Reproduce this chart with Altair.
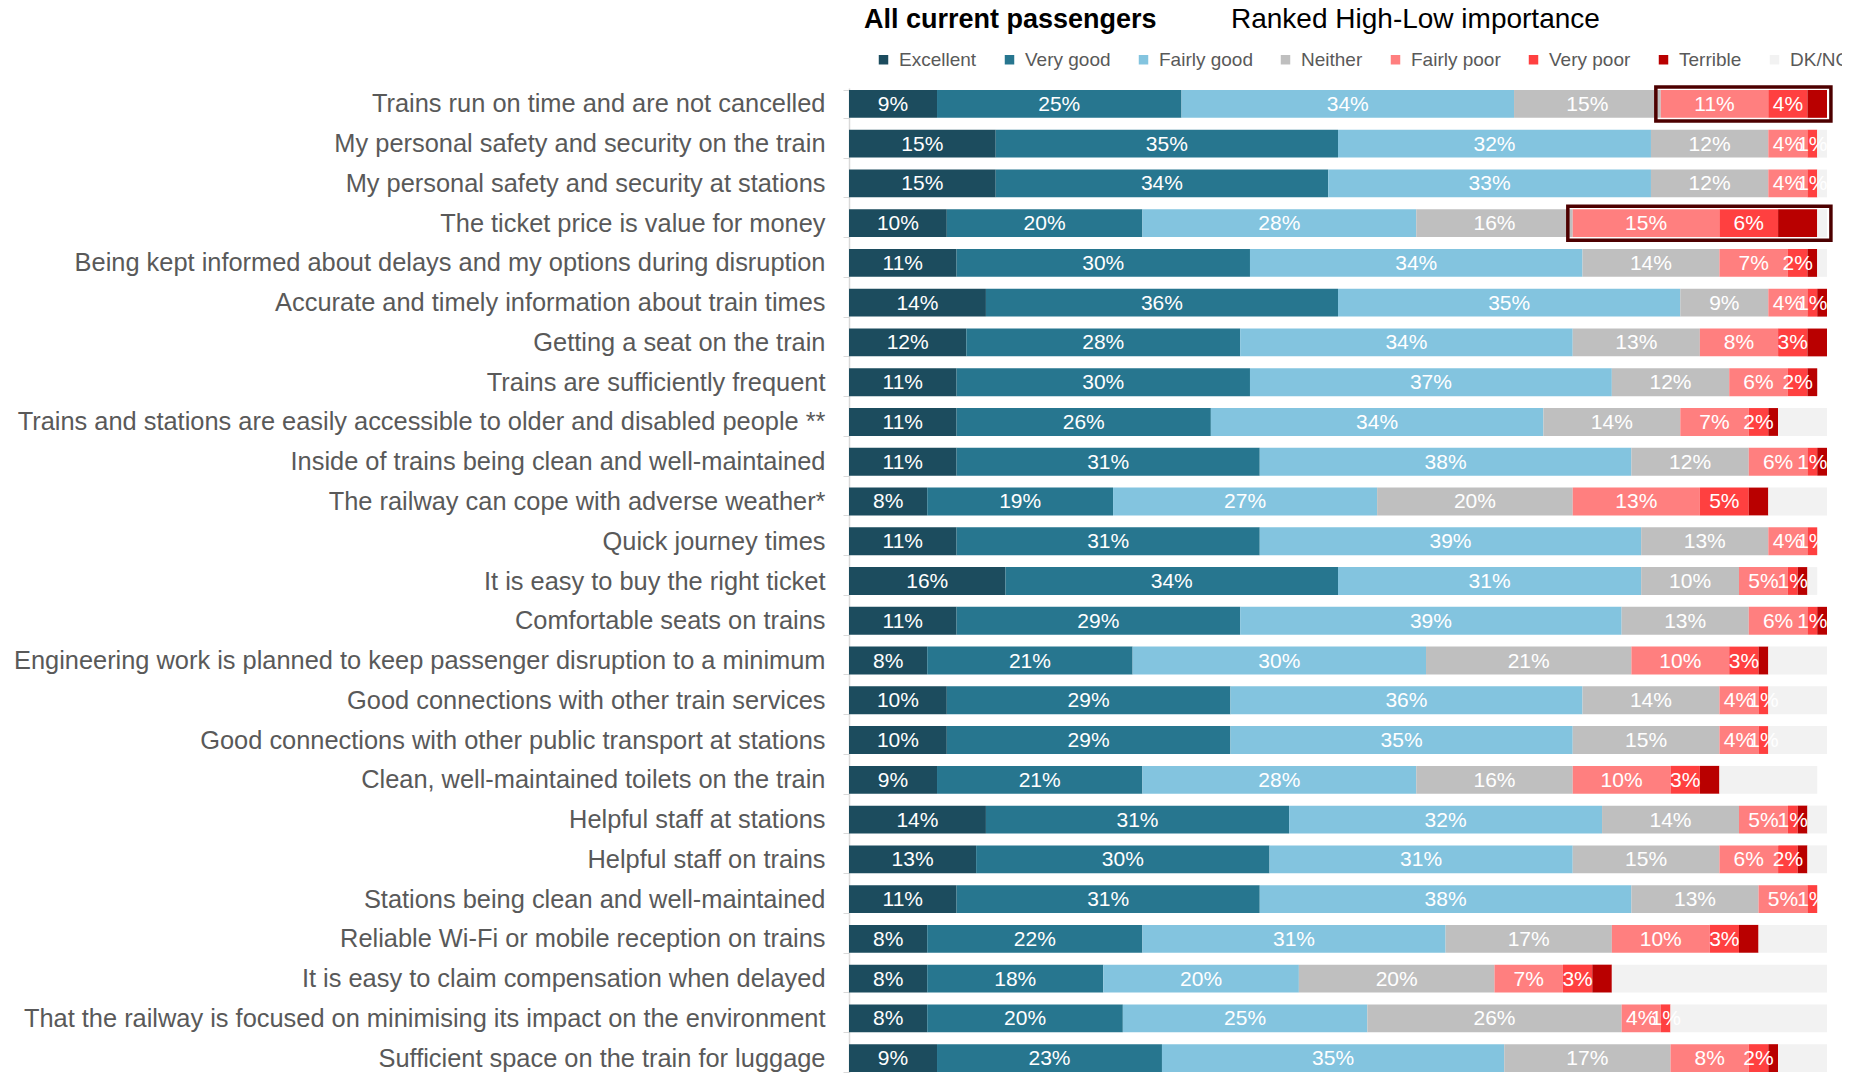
import altair as alt
import pandas as pd

categories = [
    "Trains run on time and are not cancelled",
    "My personal safety and security on the train",
    "My personal safety and security at stations",
    "The ticket price is value for money",
    "Being kept informed about delays and my options during disruption",
    "Accurate and timely information about train times",
    "Getting a seat on the train",
    "Trains are sufficiently frequent",
    "Trains and stations are easily accessible to older and disabled people **",
    "Inside of trains being clean and well-maintained",
    "The railway can cope with adverse weather*",
    "Quick journey times",
    "It is easy to buy the right ticket",
    "Comfortable seats on trains",
    "Engineering work is planned to keep passenger disruption to a minimum",
    "Good connections with other train services",
    "Good connections with other public transport at stations",
    "Clean, well-maintained toilets on the train",
    "Helpful staff at stations",
    "Helpful staff on trains",
    "Stations being clean and well-maintained",
    "Reliable Wi-Fi or mobile reception on trains",
    "It is easy to claim compensation when delayed",
    "That the railway is focused on minimising its impact on the environment",
    "Sufficient space on the train for luggage",
]

ratings = ["Excellent", "Very good", "Fairly good", "Neither",
           "Fairly poor", "Very poor", "Terrible", "DK/NO"]
colors = ["#1C4C5E", "#27768F", "#83C4DF", "#BFBFBF",
          "#FF7F7F", "#FF4040", "#B90000", "#F2F2F2"]

excellent   = [9, 15, 15, 10, 11, 14, 12, 11, 11, 11, 8, 11, 16, 11, 8, 10, 10, 9, 14, 13, 11, 8, 8, 8, 9]
very_good   = [25, 35, 34, 20, 30, 36, 28, 30, 26, 31, 19, 31, 34, 29, 21, 29, 29, 21, 31, 30, 31, 22, 18, 20, 23]
fairly_good = [34, 32, 33, 28, 34, 35, 34, 37, 34, 38, 27, 39, 31, 39, 30, 36, 35, 28, 32, 31, 38, 31, 20, 25, 35]
neither     = [15, 12, 12, 16, 14, 9, 13, 12, 14, 12, 20, 13, 10, 13, 21, 14, 15, 16, 14, 15, 13, 17, 20, 26, 17]
fairly_poor = [11, 4, 4, 15, 7, 4, 8, 6, 7, 6, 13, 4, 5, 6, 10, 4, 4, 10, 5, 6, 5, 10, 7, 4, 8]
very_poor   = [4, 1, 1, 6, 2, 1, 3, 2, 2, 1, 5, 1, 1, 1, 3, 1, 1, 3, 1, 2, 1, 3, 3, 1, 2]
terrible    = [2, 0, 0, 4, 1, 1, 2, 1, 1, 1, 2, 0, 1, 1, 1, 0, 0, 2, 1, 1, 0, 2, 2, 0, 1]
dk_no       = [0, 1, 1, 1, 1, 0, 0, 0, 5, 0, 6, 0, 1, 0, 6, 6, 6, 10, 2, 2, 0, 7, 22, 16, 5]

highlighted = ["Trains run on time and are not cancelled",
               "The ticket price is value for money"]

series = [excellent, very_good, fairly_good, neither,
          fairly_poor, very_poor, terrible, dk_no]

records = []
for i, cat in enumerate(categories):
    cum = 0
    for j, r in enumerate(ratings):
        v = series[j][i]
        records.append(dict(item=cat, rating=r, value=v, start=cum, end=cum + v,
                            mid=cum + v / 2,
                            label=(f"{v}%" if (v > 0 and j < 6) else "")))
        cum += v
df = pd.DataFrame(records)

box_rows = []
for cat in highlighted:
    i = categories.index(cat)
    neg_start = excellent[i] + very_good[i] + fairly_good[i] + neither[i]
    box_rows.append(dict(item=cat, bstart=neg_start - 0.5, bend=100.4))
box_df = pd.DataFrame(box_rows)

FONT = "Liberation Sans"

y_enc = alt.Y("item:N", sort=categories,
              scale=alt.Scale(paddingInner=0.3, paddingOuter=0.05),
              axis=alt.Axis(title=None, labelFontSize=25.4, labelColor="#595959",
                            labelFont=FONT, labelPadding=18, tickBand="extent",
                            tickSize=6, tickColor="#D9D9D9", domainColor="#D9D9D9",
                            domainWidth=1.5, labelLimit=1200))

xscale = alt.Scale(domain=[0, 100], nice=False, zero=True)

bars = alt.Chart(df).mark_bar().encode(
    y=y_enc,
    x=alt.X("start:Q", scale=xscale, axis=None),
    x2="end:Q",
    color=alt.Color("rating:N", scale=alt.Scale(domain=ratings, range=colors),
                    legend=alt.Legend(orient="none", legendX=25, legendY=-38,
                                      direction="horizontal", columns=8, title=None,
                                      symbolType="square", symbolSize=90,
                                      symbolStrokeWidth=0, labelFontSize=19,
                                      labelFont=FONT, labelColor="#595959",
                                      columnPadding=23, labelOffset=6)),
)

labels = alt.Chart(df).transform_filter(alt.datum.label != "").mark_text(
    color="white", fontSize=21, font=FONT, align="center", baseline="middle", dy=1
).encode(
    y=y_enc,
    x=alt.X("mid:Q", scale=xscale, axis=None),
    text="label:N",
)

boxes = alt.Chart(box_df).mark_bar(
    size=34, fillOpacity=0, stroke="#4D0000", strokeWidth=3.5
).encode(
    y=y_enc,
    x=alt.X("bstart:Q", scale=xscale, axis=None),
    x2="bend:Q",
)

title1 = alt.Chart(pd.DataFrame({"t": ["All current passengers"]})).mark_text(
    align="left", baseline="alphabetic", fontSize=27, fontWeight="bold",
    font=FONT, color="black"
).encode(text="t:N", x=alt.value(15), y=alt.value(-60))

title2 = alt.Chart(pd.DataFrame({"t": ["Ranked High-Low importance"]})).mark_text(
    align="left", baseline="alphabetic", fontSize=28, font=FONT, color="black"
).encode(text="t:N", x=alt.value(382), y=alt.value(-60))

chart = alt.layer(bars, labels, boxes, title1, title2).properties(
    width=978, height=986,
    autosize=alt.AutoSizeParams(type="none"),
    padding={"left": 841, "top": 80, "right": 15, "bottom": 0},
).configure_view(stroke=None)

chart.save("out.html", embed_options={"renderer": "svg", "actions": False})
